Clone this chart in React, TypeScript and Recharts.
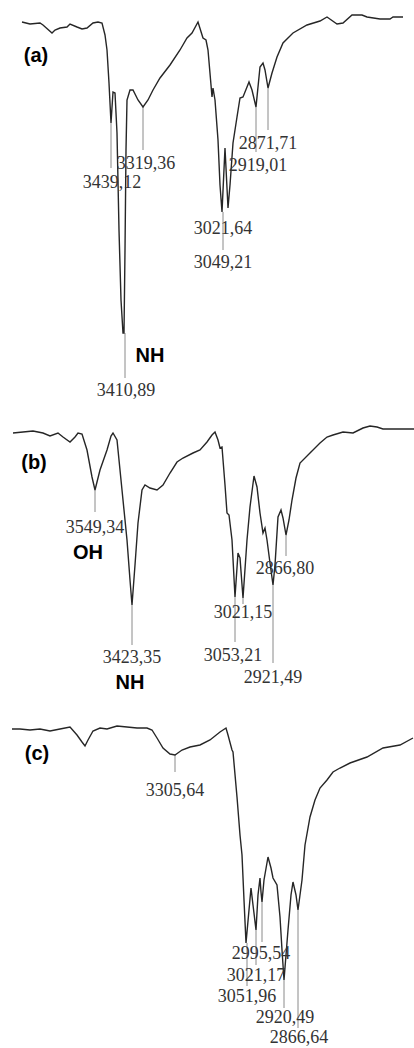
import React from 'react';
import { LineChart, Line, XAxis, YAxis, ReferenceLine, ReferenceDot } from 'recharts';

// horizontal position along the scan (a.u.) and transmittance (a.u.)
const positionA = [22, 30, 40, 43, 52, 55, 60, 67, 70, 77, 82, 87, 93, 98, 102, 105, 107, 109, 111, 113, 115, 117, 119, 121, 123, 124, 125, 126, 127, 130, 133, 138, 143, 148, 153, 160, 170, 180, 187, 192, 198, 203, 206, 208, 211, 212, 213, 215, 218, 220, 222, 225, 228, 230, 233, 237, 240, 243, 247, 249, 252, 256, 260, 263, 265, 268, 272, 277, 283, 293, 307, 320, 327, 337, 343, 352, 362, 367, 380, 390, 393, 403];
const transmittanceA = [378, 376, 377, 375, 367, 370, 372, 373, 376, 373, 371, 372, 377, 378, 377, 365, 350, 317, 277, 308, 307, 267, 170, 100, 67, 67, 150, 250, 300, 310, 310, 300, 293, 300, 310, 322, 335, 350, 362, 367, 378, 362, 360, 350, 315, 303, 312, 300, 260, 215, 188, 252, 192, 215, 257, 283, 302, 303, 313, 318, 310, 293, 333, 337, 330, 312, 327, 343, 357, 367, 375, 379, 383, 376, 377, 385, 385, 383, 381, 381, 383, 383];

const positionB = [13, 23, 33, 43, 50, 58, 63, 70, 75, 78, 82, 87, 92, 95, 100, 107, 111, 113, 117, 122, 127, 130, 132, 135, 138, 142, 145, 150, 157, 163, 170, 177, 183, 193, 200, 207, 212, 215, 218, 220, 222, 225, 227, 229, 232, 235, 238, 240, 243, 247, 250, 254, 257, 260, 263, 265, 267, 270, 273, 275, 278, 281, 283, 286, 289, 292, 296, 300, 310, 320, 327, 333, 343, 353, 363, 370, 377, 383, 414];
const transmittanceB = [267, 268, 269, 267, 264, 267, 263, 258, 263, 267, 266, 250, 223, 210, 230, 250, 264, 267, 260, 210, 160, 120, 95, 135, 177, 210, 215, 212, 210, 215, 227, 238, 242, 247, 250, 258, 265, 268, 260, 252, 253, 215, 187, 185, 160, 103, 147, 142, 102, 160, 193, 224, 213, 187, 167, 172, 160, 137, 115, 135, 183, 190, 182, 165, 180, 200, 222, 237, 247, 257, 263, 265, 268, 267, 272, 274, 273, 271, 271];

const positionC = [12, 20, 30, 40, 50, 60, 70, 77, 82, 85, 88, 93, 100, 107, 117, 127, 137, 147, 152, 157, 163, 170, 175, 182, 190, 200, 210, 220, 226, 228, 232, 233, 237, 240, 242, 244, 246, 249, 251, 253, 256, 258, 260, 261, 262, 264, 268, 271, 273, 277, 280, 282, 284, 286, 288, 291, 293, 296, 298, 302, 305, 310, 315, 320, 327, 333, 340, 350, 367, 383, 400, 413];
const transmittanceC = [319, 319, 318, 319, 317, 319, 321, 313, 306, 302, 308, 317, 320, 319, 322, 321, 320, 320, 318, 310, 300, 294, 293, 298, 301, 303, 308, 316, 320, 313, 298, 296, 251, 213, 193, 148, 105, 138, 160, 143, 118, 153, 170, 156, 146, 168, 191, 180, 170, 163, 131, 98, 68, 93, 118, 153, 166, 153, 138, 168, 203, 231, 248, 260, 268, 276, 280, 285, 291, 300, 303, 310];

// peak markers: position, top and bottom of the tick (transmittance units)
const tickPosA = [111, 143, 256, 268, 223, 125];
const tickFromA = [277, 293, 293, 312, 188, 67];
const tickToA = [232, 250, 248, 270, 150, 22];

const tickPosB = [95, 132, 235, 243, 273, 286];
const tickFromB = [210, 95, 103, 102, 115, 165];
const tickToB = [188, 55, 58, 96, 37, 144];

const tickPosC = [175, 262, 256, 247, 284, 298];
const tickFromC = [293, 146, 118, 105, 68, 138];
const tickToC = [276, 106, 83, 62, 40, 20];

// peak labels (wavenumbers, cm-1)
const peakTextA = ['3439,12', '3319,36', '2919,01', '2871,71', '3021,64', '3049,21', '3410,89'];
const peakXA = [112, 146, 258, 268, 223, 223, 126];
const peakYA = [218, 237, 235, 257, 172, 138, 10];

const peakTextB = ['3549,34', '3423,35', '3021,15', '3053,21', '2921,49', '2866,80'];
const peakXB = [95, 132, 243, 233, 273, 285];
const peakYB = [173, 43, 88, 45, 23, 132];

const peakTextC = ['3305,64', '2995,54', '3021,17', '3051,96', '2920,49', '2866,64'];
const peakXC = [175, 261, 256, 247, 285, 299];
const peakYC = [258, 95, 73, 52, 31, 11];

// bold annotations
const noteTextA = ['(a)', 'NH'];
const noteXA = [36, 150];
const noteYA = [345, 45];

const noteTextB = ['(b)', 'OH', 'NH'];
const noteXB = [34, 88, 130];
const noteYB = [238, 148, 18];

const noteTextC = ['(c)'];
const noteXC = [37];
const noteYC = [295];

interface PanelProps {
  top: number;
  height: number;
  positions: number[];
  values: number[];
  tickPos: number[];
  tickFrom: number[];
  tickTo: number[];
  peakText: string[];
  peakX: number[];
  peakY: number[];
  noteText: string[];
  noteX: number[];
  noteY: number[];
}

function SpectrumPanel(p: PanelProps) {
  const data = p.positions.map((x, i) => ({ x, t: p.values[i] }));
  return (
    <div style={{ position: 'absolute', left: 0, top: p.top }}>
      <LineChart width={414} height={p.height} data={data} margin={{ top: 0, right: 0, bottom: 0, left: 0 }}>
        <XAxis type="number" dataKey="x" domain={[0, 414]} hide />
        <YAxis type="number" domain={[0, p.height]} hide />
        {p.tickPos.map((x, i) => (
          <ReferenceLine
            key={'t' + i}
            segment={[{ x, y: p.tickFrom[i] }, { x, y: p.tickTo[i] }]}
            stroke="#8a8a8a"
            strokeWidth={1}
          />
        ))}
        <Line
          type="linear"
          dataKey="t"
          stroke="#262626"
          strokeWidth={1.4}
          dot={false}
          activeDot={false}
          isAnimationActive={false}
        />
        {p.peakText.map((s, i) => (
          <ReferenceDot
            key={'p' + i}
            x={p.peakX[i]}
            y={p.peakY[i]}
            r={0}
            stroke="none"
            fill="none"
            label={{ value: s, position: 'center', fill: '#333', fontSize: 18, fontFamily: '"Liberation Serif", serif' }}
          />
        ))}
        {p.noteText.map((s, i) => (
          <ReferenceDot
            key={'n' + i}
            x={p.noteX[i]}
            y={p.noteY[i]}
            r={0}
            stroke="none"
            fill="none"
            label={{ value: s, position: 'center', fill: '#000', fontSize: 20, fontWeight: 'bold', fontFamily: '"Liberation Sans", Arial, sans-serif' }}
          />
        ))}
      </LineChart>
    </div>
  );
}

export default function App() {
  return (
    <div style={{ position: 'absolute', left: 0, top: 0, width: 414, height: 1048, background: '#fff' }}>
      <SpectrumPanel
        top={0}
        height={400}
        positions={positionA}
        values={transmittanceA}
        tickPos={tickPosA}
        tickFrom={tickFromA}
        tickTo={tickToA}
        peakText={peakTextA}
        peakX={peakXA}
        peakY={peakYA}
        noteText={noteTextA}
        noteX={noteXA}
        noteY={noteYA}
      />
      <SpectrumPanel
        top={400}
        height={300}
        positions={positionB}
        values={transmittanceB}
        tickPos={tickPosB}
        tickFrom={tickFromB}
        tickTo={tickToB}
        peakText={peakTextB}
        peakX={peakXB}
        peakY={peakYB}
        noteText={noteTextB}
        noteX={noteXB}
        noteY={noteYB}
      />
      <SpectrumPanel
        top={700}
        height={348}
        positions={positionC}
        values={transmittanceC}
        tickPos={tickPosC}
        tickFrom={tickFromC}
        tickTo={tickToC}
        peakText={peakTextC}
        peakX={peakXC}
        peakY={peakYC}
        noteText={noteTextC}
        noteX={noteXC}
        noteY={noteYC}
      />
    </div>
  );
}
